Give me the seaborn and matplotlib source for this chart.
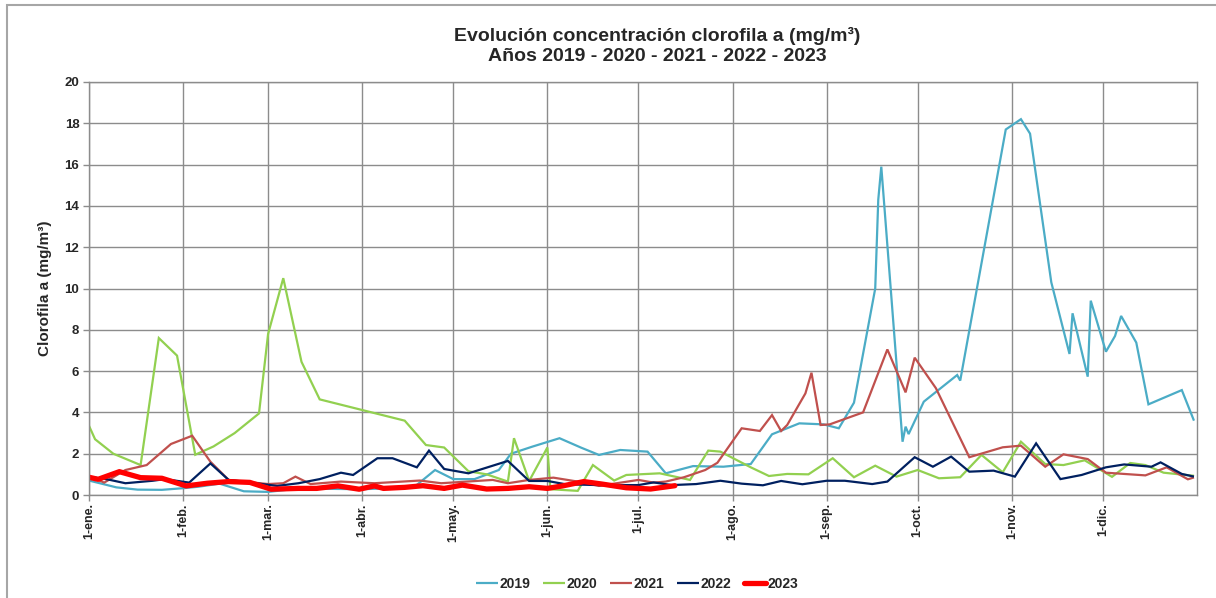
import matplotlib
matplotlib.use("Agg")
import matplotlib.pyplot as plt
from matplotlib.patches import Rectangle
import pandas as pd
import seaborn as sns

# ---------------- data (dates on a common calendar year, MM-DD) ----------------
dates_2019 = ["01-01","01-10","01-17","01-25","02-01","02-06","02-13","02-21","03-01","03-09",
              "03-20","04-01","04-18","04-25","05-01","05-08","05-16","05-20","05-27","06-05",
              "06-12","06-18","06-25","07-04","07-10","07-19","07-29","08-07","08-14","08-23",
              "08-31","09-05","09-10","09-17","09-18","09-19","09-26","09-27","09-28","10-03",
              "10-14","10-15","10-30","11-04","11-07","11-14","11-20","11-21","11-26","11-27",
              "12-02","12-05","12-07","12-12","12-16","12-27","12-31"]
vals_2019 = [0.70,0.37,0.26,0.25,0.33,0.40,0.55,0.18,0.15,0.28,
             0.30,0.28,0.37,1.21,0.77,0.77,1.21,2.00,2.34,2.75,
             2.30,1.94,2.18,2.10,1.05,1.40,1.37,1.50,2.94,3.47,
             3.42,3.23,4.47,10.0,14.3,15.9,2.58,3.31,2.95,4.52,
             5.81,5.54,17.7,18.2,17.5,10.3,6.83,8.80,5.73,9.41,
             6.94,7.70,8.67,7.38,4.39,5.08,3.60]

dates_2020 = ["01-01","01-03","01-09","01-18","01-24","01-30","02-05","02-11","02-18","02-26",
              "03-01","03-06","03-12","03-18","04-15","04-22","04-28","05-06","05-12","05-19",
              "05-21","05-26","06-01","06-02","06-11","06-16","06-23","06-27","07-08","07-18",
              "07-24","07-28","08-07","08-13","08-19","08-26","09-03","09-10","09-17","09-24",
              "10-01","10-08","10-15","10-22","10-29","11-04","11-12","11-18","11-25","12-04",
              "12-10","12-15","12-21","12-31"]
vals_2020 = [3.35,2.70,2.00,1.45,7.60,6.75,1.95,2.35,3.00,3.95,
             7.80,10.5,6.45,4.63,3.60,2.42,2.30,1.15,1.00,0.65,
             2.75,0.68,2.30,0.28,0.20,1.45,0.70,0.97,1.05,0.73,
             2.15,2.10,1.34,0.92,1.02,1.00,1.78,0.86,1.42,0.89,
             1.21,0.81,0.86,1.94,1.10,2.58,1.50,1.45,1.68,0.88,
             1.55,1.45,1.08,0.93]

dates_2021 = ["01-02","01-06","01-13","01-20","01-28","02-04","02-10","02-16","03-01","03-06",
              "03-10","03-15","03-25","04-05","04-20","04-27","05-14","05-19","05-26","06-03",
              "06-11","06-18","07-01","07-06","07-10","07-16","07-23","07-27","08-04","08-10",
              "08-14","08-17","08-19","08-25","08-27","08-30","09-02","09-13","09-21","09-27",
              "09-30","10-07","10-18","10-29","11-04","11-12","11-18","11-26","12-02","12-15",
              "12-22","12-29","12-31"]
vals_2021 = [0.86,0.60,1.21,1.45,2.47,2.87,1.61,0.73,0.53,0.57,
             0.89,0.53,0.65,0.57,0.70,0.57,0.73,0.57,0.73,0.84,
             0.65,0.44,0.73,0.60,0.65,0.86,1.21,1.56,3.23,3.10,
             3.87,3.10,3.39,4.92,5.92,3.39,3.42,4.00,7.05,4.97,
             6.65,5.17,1.83,2.31,2.39,1.37,1.97,1.74,1.08,0.95,
             1.34,0.76,0.85]

dates_2022 = ["01-02","01-07","01-13","01-22","01-26","02-03","02-10","02-16","03-04","03-11",
              "03-18","03-25","03-29","04-06","04-11","04-19","04-23","04-28","05-06","05-19",
              "05-26","06-01","06-07","06-18","07-01","07-06","07-12","07-20","07-28","08-04",
              "08-11","08-17","08-24","09-01","09-07","09-16","09-21","09-30","10-06","10-12",
              "10-18","10-26","11-02","11-09","11-17","11-24","12-02","12-08","12-17","12-20",
              "12-27","12-31"]
vals_2022 = [0.86,0.76,0.57,0.69,0.77,0.60,1.53,0.73,0.44,0.57,
             0.77,1.08,0.97,1.78,1.78,1.34,2.15,1.26,1.05,1.65,
             0.68,0.68,0.52,0.48,0.48,0.61,0.48,0.53,0.69,0.55,
             0.47,0.68,0.52,0.69,0.69,0.53,0.65,1.83,1.37,1.86,
             1.13,1.18,0.89,2.50,0.77,0.97,1.34,1.48,1.37,1.58,
             1.02,0.89]

dates_2023 = ["01-01","01-04","01-11","01-18","01-25","02-02","02-09","02-16","02-23","03-02",
              "03-11","03-17","03-24","03-31","04-05","04-08","04-15","04-21","04-28","05-04",
              "05-12","05-19","05-26","06-01","06-06","06-13","06-19","06-27","07-05","07-13"]
vals_2023 = [0.86,0.76,1.13,0.84,0.81,0.44,0.57,0.65,0.61,0.28,
             0.32,0.32,0.44,0.28,0.44,0.32,0.37,0.45,0.32,0.48,
             0.29,0.32,0.40,0.32,0.44,0.65,0.53,0.35,0.29,0.45]

series = {
    "2019": (dates_2019, vals_2019),
    "2020": (dates_2020, vals_2020),
    "2021": (dates_2021, vals_2021),
    "2022": (dates_2022, vals_2022),
    "2023": (dates_2023, vals_2023),
}
colors = {"2019": "#4BACC6", "2020": "#92D050", "2021": "#C0504D",
          "2022": "#002060", "2023": "#FF0000"}
widths = {"2019": 1.6, "2020": 1.6, "2021": 1.6, "2022": 1.6, "2023": 3.8}

month_labels = ["1-ene.", "1-feb.", "1-mar.", "1-abr.", "1-may.", "1-jun.",
                "1-jul.", "1-ago.", "1-sep.", "1-oct.", "1-nov.", "1-dic."]

title_text = "Evolución concentración clorofila a (mg/m³)\nAños 2019 - 2020 - 2021 - 2022 - 2023"
ylabel_text = "Clorofila a (mg/m³)"

# ---------------- figure ----------------
sns.set_theme(style="white")
plt.rcParams["font.family"] = ["Liberation Sans", "DejaVu Sans"]

BASE_YEAR = 2019
frames = []
for yr, (d, v) in series.items():
    frames.append(pd.DataFrame({
        "fecha": pd.to_datetime([f"{BASE_YEAR}-{s}" for s in d]),
        "valor": v,
        "anio": yr,
    }))
df = pd.concat(frames, ignore_index=True)

fig = plt.figure(figsize=(12.16, 5.98), dpi=100)
ax = fig.add_axes([89 / 1216, 1 - 495 / 598, (1197 - 89) / 1216, (495 - 82) / 598])

for yr in series:
    sub = df[df["anio"] == yr]
    sns.lineplot(data=sub, x="fecha", y="valor", ax=ax, color=colors[yr],
                 linewidth=widths[yr], label=yr, sort=True, estimator=None,
                 solid_joinstyle="miter" if yr != "2023" else "round",
                 solid_capstyle="round" if yr == "2023" else "butt")

ax.set_xlim(pd.Timestamp(f"{BASE_YEAR}-01-01"), pd.Timestamp(f"{BASE_YEAR + 1}-01-01"))
ax.set_ylim(0, 20)
ax.set_yticks(range(0, 21, 2))
ax.set_yticklabels([str(v) for v in range(0, 21, 2)], fontsize=9.5, fontweight="bold")
month_ticks = pd.date_range(f"{BASE_YEAR}-01-01", periods=12, freq="MS")
ax.set_xticks(month_ticks)
ax.set_xticklabels(month_labels, rotation=90, fontsize=9, fontweight="bold")

ax.grid(True, color="#8c8c8c", linewidth=1.0)
ax.set_axisbelow(True)
for sp in ax.spines.values():
    sp.set_color("#8c8c8c")
    sp.set_linewidth(1.0)
ax.tick_params(axis="both", which="major", length=4, width=1.0, color="#8c8c8c",
               direction="out", pad=3, bottom=True, left=True)
ax.tick_params(axis="x", pad=2)

ax.set_xlabel("")
ax.set_ylabel(ylabel_text, fontsize=11, fontweight="bold", labelpad=9)

ax.legend_.remove()
handles, labels = ax.get_legend_handles_labels()
fig.legend(handles, labels, loc="center", bbox_to_anchor=(637 / 1216, 1 - 584 / 598),
           ncol=5, frameon=False, prop={"weight": "bold", "size": 10},
           handlelength=1.6, handletextpad=0.1, columnspacing=0.9)

fig.text(657 / 1216, 1 - 46 / 598, title_text, ha="center", va="center",
         fontsize=14, fontweight="bold", linespacing=1.28)

fig.add_artist(Rectangle((7 / 1216, -0.05), 1.2, 1 - 5 / 598 + 0.05,
                         transform=fig.transFigure, fill=False,
                         edgecolor="#a6a6a6", linewidth=1.5, clip_on=False))

fig.savefig("out.png", dpi=100)
